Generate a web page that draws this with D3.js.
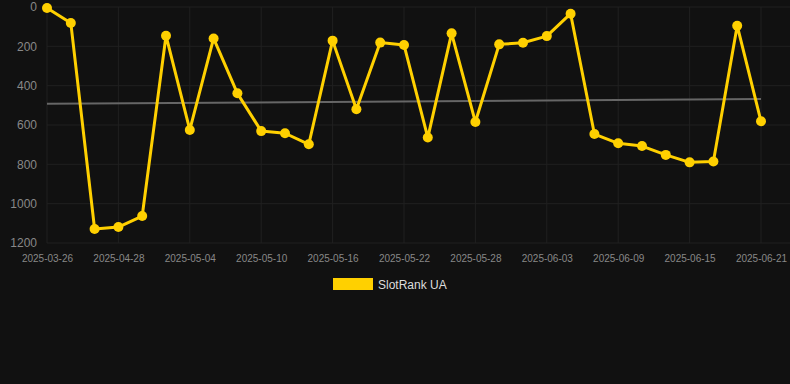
<!DOCTYPE html>
<html>
<head>
<meta charset="utf-8">
<script src="https://cdn.jsdelivr.net/npm/d3@7"></script>
<style>
  html, body { margin: 0; padding: 0; background: #111111; }
  svg { display: block; }
</style>
</head>
<body>
<svg id="chart" width="790" height="384"></svg>
<script>
const dates = [
  "2025-03-26","2025-04-24","2025-04-26","2025-04-28","2025-04-30","2025-05-02",
  "2025-05-04","2025-05-06","2025-05-08","2025-05-10","2025-05-12","2025-05-14",
  "2025-05-16","2025-05-18","2025-05-20","2025-05-22","2025-05-24","2025-05-26",
  "2025-05-28","2025-05-30","2025-06-01","2025-06-03","2025-06-05","2025-06-07",
  "2025-06-09","2025-06-11","2025-06-13","2025-06-15","2025-06-17","2025-06-19",
  "2025-06-21"
];
const rankValues = [
  5, 81, 1129, 1119, 1063, 146, 625, 160, 439, 631, 642, 698, 171, 520, 181, 193,
  664, 134, 585, 190, 182, 148, 34, 646, 693, 707, 752, 790, 786, 95, 581
];
const trendValues = [492, 468];
const yTicks = [0, 200, 400, 600, 800, 1000, 1200];
const xTickLabels = ["2025-03-26","2025-04-28","2025-05-04","2025-05-10","2025-05-16",
  "2025-05-22","2025-05-28","2025-06-03","2025-06-09","2025-06-15","2025-06-21"];
const seriesName = "SlotRank UA";

const svg = d3.select("#chart");
const mLeft = 47, mRight = 761, plotRight = 790, mTop = 7, mBottom = 243;

const x = d3.scalePoint().domain(dates).range([mLeft, mRight]);
const y = d3.scaleLinear().domain([0, 1200]).range([mTop, mBottom]);

// grid
const grid = svg.append("g");
grid.selectAll("line.h").data(yTicks).join("line")
  .attr("x1", mLeft).attr("x2", plotRight)
  .attr("y1", d => y(d)).attr("y2", d => y(d))
  .attr("stroke", "#202020").attr("stroke-width", 1);
grid.selectAll("line.v").data(xTickLabels).join("line")
  .attr("x1", d => x(d)).attr("x2", d => x(d))
  .attr("y1", mTop).attr("y2", mBottom)
  .attr("stroke", "#202020").attr("stroke-width", 1);

// y axis
const yAxis = d3.axisLeft(y).tickValues(yTicks).tickFormat(d3.format("d")).tickSize(0).tickPadding(10);
const gy = svg.append("g").attr("transform", `translate(${mLeft},0)`).call(yAxis);
gy.select(".domain").remove();
gy.selectAll("text").attr("fill", "#888888").attr("font-size", 12)
  .attr("font-family", "Liberation Sans, Arial, sans-serif");

// x axis
const xAxis = d3.axisBottom(x).tickValues(xTickLabels).tickSize(0).tickPadding(12);
const gx = svg.append("g").attr("transform", `translate(0,${mBottom})`).call(xAxis);
gx.select(".domain").remove();
gx.selectAll("text").attr("fill", "#888888").attr("font-size", 10)
  .attr("font-family", "Liberation Sans, Arial, sans-serif");

// trend line
svg.append("line")
  .attr("x1", x(dates[0])).attr("x2", x(dates[dates.length - 1]))
  .attr("y1", y(trendValues[0])).attr("y2", y(trendValues[1]))
  .attr("stroke", "#666666").attr("stroke-width", 2);

// series line
const data = dates.map((d, i) => ({ d, v: rankValues[i] }));
svg.append("path").datum(data)
  .attr("fill", "none").attr("stroke", "#FFD000").attr("stroke-width", 3)
  .attr("stroke-linejoin", "round")
  .attr("d", d3.line().x(p => x(p.d)).y(p => y(p.v)));

svg.append("g").selectAll("circle").data(data).join("circle")
  .attr("cx", p => x(p.d)).attr("cy", p => y(p.v)).attr("r", 5)
  .attr("fill", "#FFD000");

// legend
const lg = svg.append("g");
lg.append("rect").attr("x", 333).attr("y", 278).attr("width", 40).attr("height", 12)
  .attr("fill", "#FFD000");
lg.append("text").attr("x", 378).attr("y", 288.5).text(seriesName)
  .attr("fill", "#dddddd").attr("font-size", 12)
  .attr("font-family", "Liberation Sans, Arial, sans-serif");
</script>
</body>
</html>
